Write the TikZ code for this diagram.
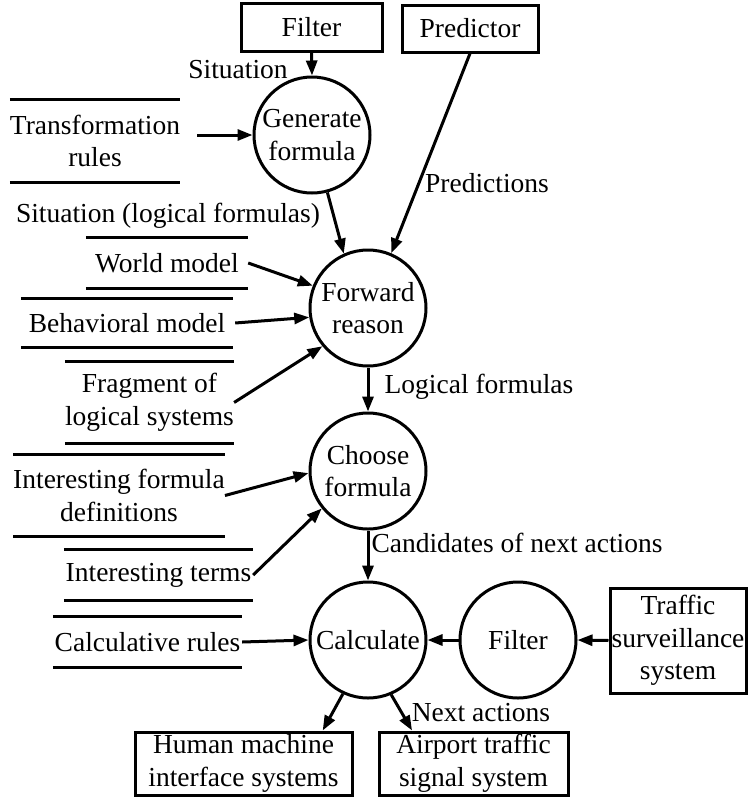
\documentclass[tikz,border=0pt]{standalone}
\usepackage{fontspec}
\setmainfont{Liberation Serif}
\usetikzlibrary{arrows.meta,calc}

\begin{document}
\begin{tikzpicture}[x=1pt,y=-1pt,
  font=\fontsize{27.5}{32.5}\selectfont,
  every node/.style={inner sep=0pt, align=center},
  proc/.style={draw, circle, line width=3pt, minimum size=116pt},
  ext/.style={draw, rectangle, line width=3pt},
  storeline/.style={draw, line width=3pt},
  store/.style={append after command={
      (\tikzlastnode.north west) edge[storeline] (\tikzlastnode.north east)
      (\tikzlastnode.south west) edge[storeline] (\tikzlastnode.south east)}},
  arr/.style={draw, line width=3pt, -{Triangle[length=15pt,width=11pt]}},
  lbl/.style={}
]
\useasboundingbox (0,0) rectangle (748,798);

% external entities
\node[ext, minimum width=141pt, minimum height=48pt] (filtbox) at (311.5,27) {Filter};
\node[ext, minimum width=136pt, minimum height=47pt] (pred) at (470,28.5) {Predictor};
\node[ext, minimum width=136pt, minimum height=105pt] (traffic) at (678,640.5) {Traffic\\surveillance\\system};
\node[ext, minimum width=217pt, minimum height=63pt] (human) at (243.5,763.5) {Human machine\\interface systems};
\node[ext, minimum width=189pt, minimum height=63pt] (air) at (473.5,763.5) {Airport traffic\\signal system};

% processes
\node[proc] (gen) at (312,135) {Generate\\formula};
\node[proc] (fwd) at (368,308) {Forward\\reason};
\node[proc] (choose) at (368,471) {Choose\\formula};
\node[proc] (calc) at (368,640) {Calculate};
\node[proc] (filt) at (518,640) {Filter};

% data stores
\node[store, minimum width=166pt, minimum height=82pt] (tr) at (95,141) {Transformation\\rules};
\node[store, minimum width=162pt, minimum height=50pt] (world) at (167,263) {World model};
\node[store, minimum width=212pt, minimum height=48pt] (beh) at (127,323) {Behavioral model};
\node[store, minimum width=167pt, minimum height=81pt] (frag) at (149.5,402.5) {Fragment of\\logical systems};
\node[store, minimum width=206pt, minimum height=81pt] (ifd) at (119,495.5) {Interesting formula\\definitions};
\node[store, minimum width=189pt, minimum height=50pt] (terms) at (158.5,575) {Interesting terms};
\node[store, minimum width=189pt, minimum height=50pt] (calcr) at (147.5,642) {Calculative rules};

% flows
\draw[arr] (filtbox.south) -- (gen.north);
\draw[arr] ([xshift=17pt]tr.east |- gen.west) -- (gen.west);
\draw[arr] (gen.285) -- (fwd.114);
\draw[arr] (pred.south) -- (fwd.67);
\draw[arr] (world.east) -- (fwd.158);
\draw[arr] ([xshift=2pt]beh.east) -- (fwd.189);
\draw[arr] (frag.east) -- (fwd.220);
\draw[arr] (fwd.south) -- (choose.north);
\draw[arr] (ifd.east) -- (choose.182);
\draw[arr] (terms.east) -- (choose.219);
\draw[arr] (choose.south) -- (calc.north);
\draw[arr] (calcr.east) -- (calc.west);
\draw[arr] (filt.west) -- (calc.east);
\draw[arr] (traffic.west) -- (filt.east);
\draw[arr] (calc.245) -- ($(human.north east)!0.28!(human.north)$);
\draw[arr] (calc.293) -- ($(air.north west)!0.18!(air.north east)$);

% flow labels
\node[lbl] (lsit) at (238,70) {Situation};
\node[lbl] (lsitlog) at (168,216) {Situation (logical formulas)};
\node[lbl] (lpred) at (487,183) {Predictions};
\node[lbl] (llog) at (479,387) {Logical formulas};
\node[lbl] (lcand) at (517,543) {Candidates of next actions};
\node[lbl] (lnext) at (481,713) {Next actions};
\end{tikzpicture}
\end{document}
